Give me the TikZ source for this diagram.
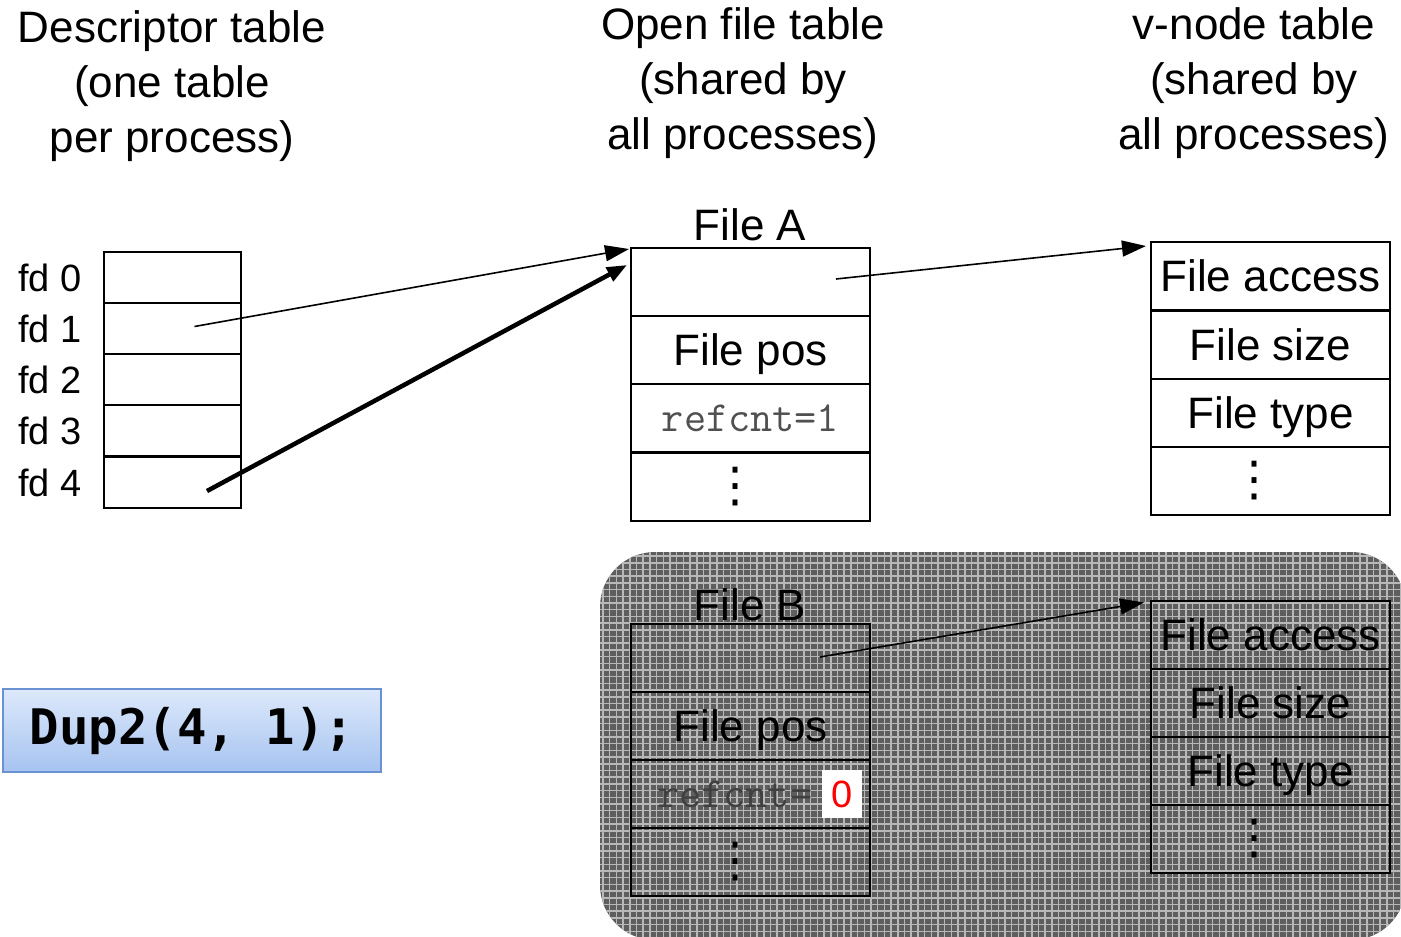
\documentclass[tikz,border=0pt]{standalone}
\usepackage{fontspec}
\setmainfont{Liberation Sans}
\newfontfamily\codef{DejaVu Sans Mono}
\newfontfamily\symf{DejaVu Sans}
\usetikzlibrary{arrows.meta,calc}
\definecolor{refgray}{HTML}{505050}
\definecolor{bgdark}{HTML}{5E5E5E}
\definecolor{bglight}{HTML}{B8B8B8}
\definecolor{duptop}{HTML}{DDE9FB}
\definecolor{dupbot}{HTML}{A6C3F0}
\definecolor{dupedge}{HTML}{6A91D2}
\begin{document}
\begin{tikzpicture}[x=1pt,y=-1pt,
  head/.style={align=center,inner sep=0pt,font=\fontsize{44}{55}\selectfont},
  dcell/.style={draw,line width=2pt,inner sep=0pt,minimum width=137pt,minimum height=51pt},
  fcell/.style={draw,line width=2pt,inner sep=0pt,minimum width=239pt,minimum height=68pt,
    text height=31pt,text depth=0pt,font=\fontsize{44}{50}\selectfont},
  fdlab/.style={inner sep=0pt,font=\fontsize{38}{40}\selectfont},
  reftext/.style={inner sep=0pt,text=refgray,font=\ttfamily\fontsize{43}{45}\selectfont},
  dotstext/.style={inner sep=0pt,font=\symf\fontsize{48}{50}\selectfont},
  thin arrow/.style={line width=1.6pt,-{Triangle[length=24pt,width=16pt]}},
  thick arrow/.style={line width=4.5pt,-{Triangle[length=20pt,width=15pt]}}]
\useasboundingbox (0,0) rectangle (1401,937);

% shaded background
\begin{scope}
  \path[clip,rounded corners=55pt] (600,552) rectangle (1406,940);
  \fill[bgdark] (600,552) rectangle (1406,940);
  \draw[bglight,line width=1.5pt,step=6.7pt] (600,552) grid (1406,940);
\end{scope}

% headers
\node[head] (hd) at (172,86) {Descriptor table\\(one table\\per process)};
\node[head] (ho) at (743,83) {Open file table\\(shared by\\all processes)};
\node[head] (hv) at (1254,83) {v-node table\\(shared by\\all processes)};

% descriptor table
\foreach \i/\y in {0/277.5,1/328.5,2/379.5,3/430.5,4/482.5}{
  \node[dcell] (d\i) at (172.5,\y) {};
  \node[fdlab] (fd\i) at (50,\y) {fd \i};
}

% File A
\node[fcell] (a0) at (750.5,282) {};
\node[fcell] (a1) at (750.5,350) {File pos};
\node[fcell] (a2) at (750.5,418) {};
\node[fcell] (a3) at (750.5,486.5) {};
\node[reftext] (ar) at (a2.center) {refcnt=1};
\node[dotstext] (ad) at ($(a3.center)+(-15,0)$) {⋮};
\node[inner sep=0pt,font=\fontsize{44}{50}\selectfont] (fa) at (750,225) {File A};

% v-node A
\node[fcell] (v0) at (1270.5,276) {File access};
\node[fcell] (v1) at (1270.5,345) {File size};
\node[fcell] (v2) at (1270.5,413) {File type};
\node[fcell] (v3) at (1270.5,481) {};
\node[dotstext] (vd) at ($(v3.center)+(-16,0)$) {⋮};

% File B
\node[fcell] (b0) at (750.5,658) {};
\node[fcell] (b1) at (750.5,726) {File pos};
\node[fcell] (b2) at (750.5,794) {};
\node[fcell] (b3) at (750.5,862) {};
\node[reftext,text=black!75,anchor=west] (br) at (657,794) {refcnt=};
\node[inner sep=0pt,fill=white,text=red,minimum width=40pt,minimum height=48pt,font=\fontsize{38}{40}\selectfont] (bz) at (842,794) {0};
\node[dotstext] (bd) at ($(b3.center)+(-15,0)$) {⋮};
\node[inner sep=0pt,font=\fontsize{44}{50}\selectfont] (fb) at (750,605) {File B};

% v-node B
\node[fcell] (w0) at (1270.5,634.5) {File access};
\node[fcell] (w1) at (1270.5,703) {File size};
\node[fcell] (w2) at (1270.5,771) {File type};
\node[fcell] (w3) at (1270.5,839) {};
\node[dotstext] (wd) at ($(w3.center)+(-16,0)$) {⋮};

% arrows
\draw[thin arrow] ($(d1.center)+(22,-2)$) -- ($(a0.north west)+(-1,2)$);
\draw[thick arrow] ($(d4.center)+(34.5,8.5)$) -- ($(a0.north west)+(-3,18)$);
\draw[thin arrow] ($(a0.center)+(85.5,-3)$) -- ($(v0.north west)+(-4,5)$);
\draw[thin arrow] ($(b0.center)+(69.5,-1)$) -- ($(w0.north west)+(-6,3)$);

% Dup2 box
\node[draw=dupedge,line width=1.5pt,top color=duptop,bottom color=dupbot,minimum width=378pt,minimum height=83pt,inner sep=0pt,font=\codef\bfseries\fontsize{49}{49}\selectfont] (dup) at (192,730.5) {Dup2(4,~1);};
\end{tikzpicture}
\end{document}
